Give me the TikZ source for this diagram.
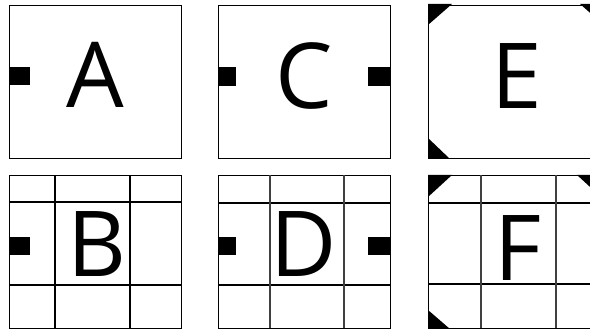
\documentclass[tikz,border=0pt]{standalone}
\usepackage{fontspec}
\setmainfont{Open Sans}
\begin{document}
\begin{tikzpicture}[x=1pt,y=-1pt,
  box/.style={draw=black, line width=1.1pt, minimum width=172pt, minimum height=153pt, inner sep=0pt, anchor=north west},
  grid/.style={draw=black, line width=1.1pt},
  vgrid/.style={draw=black!75, line width=1.3pt},
  port/.style={fill=black},
  corner/.style={fill=black},
  letter/.style={inner sep=0pt, anchor=base, font=\fontsize{91}{91}\selectfont}]
\useasboundingbox (0,0) rectangle (590,331);
% Top row
\node[box] (bA) at (9,5) {};
\node[box] (bC) at (218,5) {};
\node[box] (bE) at (428,5) {};
% Bottom row
\node[box] (bB) at (9,175) {};
\node[box] (bD) at (218,175) {};
\node[box] (bF) at (428,175) {};
% grids
\draw[grid] (9,202) -- (181,202) (9,285) -- (181,285);
\draw[grid] (55,175) -- (55,328) (130,175) -- (130,328);
\draw[grid] (218,203) -- (390,203) (218,285) -- (390,285);
\draw[vgrid] (270,175) -- (270,328) (344,175) -- (344,328);
\draw[grid] (428,203) -- (600,203) (428,284) -- (600,284);
\draw[vgrid] (481,175) -- (481,328) (556,175) -- (556,328);
% ports
\fill[port] (9,67) rectangle (30,85);
\fill[port] (218,67) rectangle (236,86);
\fill[port] (368,67) rectangle (390,86);
\fill[port] (9,237) rectangle (30,255);
\fill[port] (218,237) rectangle (236,255);
\fill[port] (368,237) rectangle (390,255);
% corners E
\fill[corner] (428,4) -- (452,4) -- (428,25) -- cycle;
\fill[corner] (428,159) -- (450,159) -- (428,138) -- cycle;
\fill[corner] (580,4) -- (604,4) -- (604,25) -- cycle;
% corners F
\fill[corner] (428,175) -- (452,175) -- (428,197) -- cycle;
\fill[corner] (428,329) -- (450,329) -- (428,310) -- cycle;
\fill[corner] (577,175) -- (601,175) -- (601,197) -- cycle;
% letters
\node[letter] (lA) at (95,108) {A};
\node[letter] (lC) at (304,109) {C};
\node[letter] (lE) at (517,109) {E};
\node[letter] (lB) at (97,277) {B};
\node[letter] (lD) at (304,277) {D};
\node[letter] (lF) at (518,281) {F};
\end{tikzpicture}
\end{document}
